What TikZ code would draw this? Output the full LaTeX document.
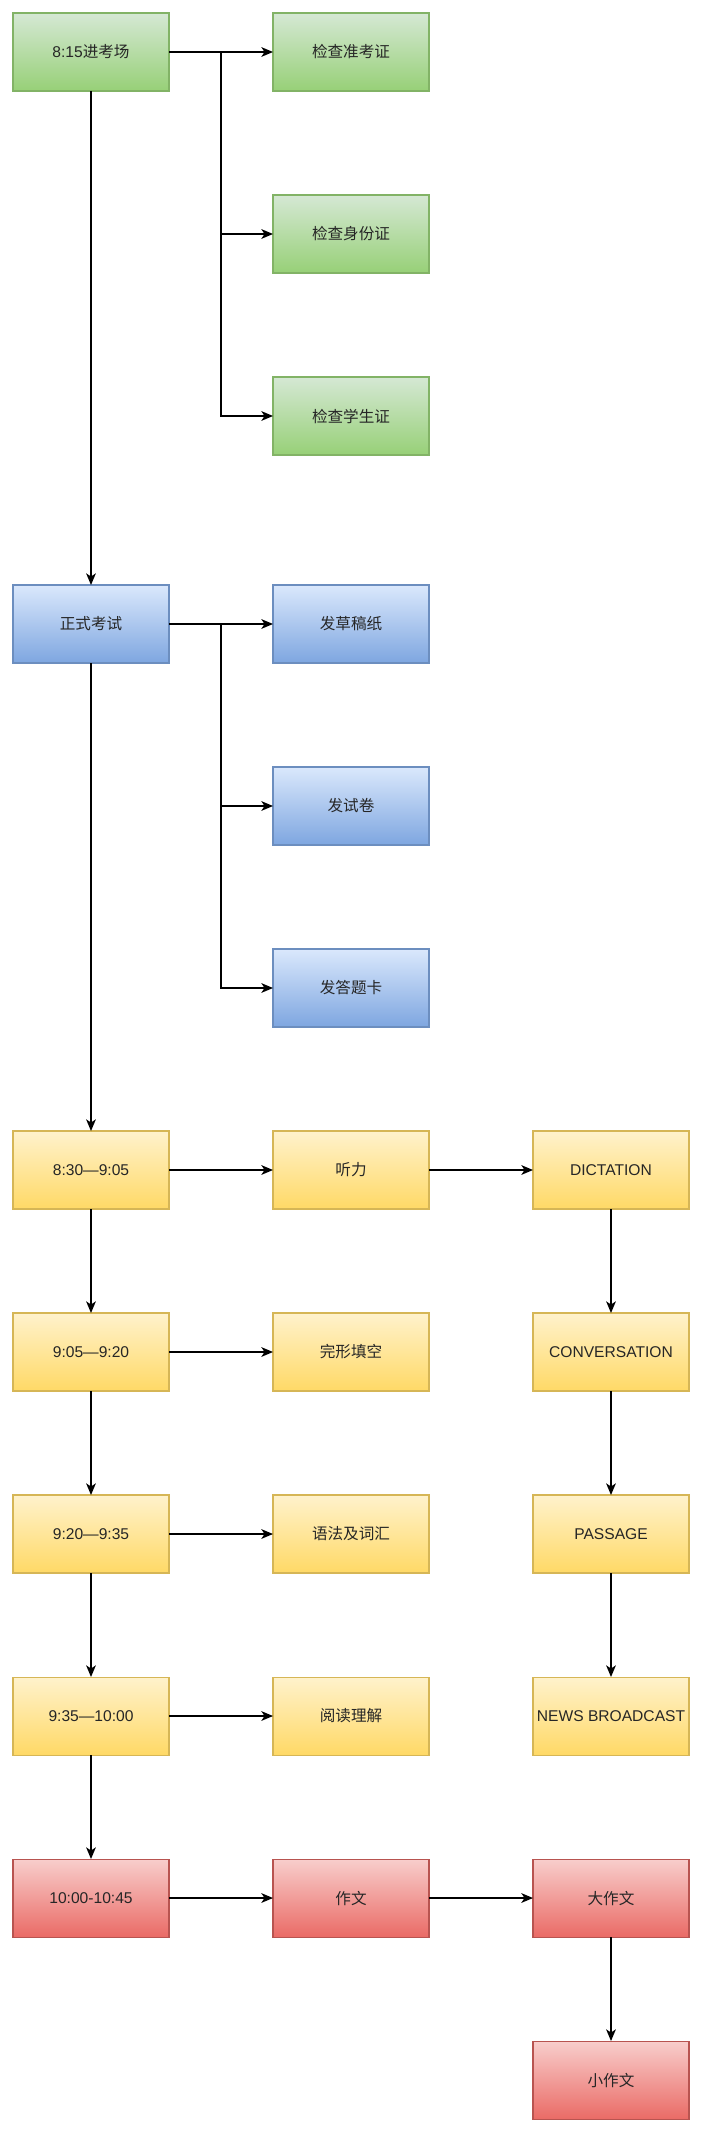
\documentclass[tikz,border=0pt]{standalone}
\usepackage{fontspec}
\setmainfont{Liberation Sans}
\newfontfamily\cjk{Noto Sans CJK SC}
\usetikzlibrary{arrows.meta}
\definecolor{gtop}{HTML}{D5E8D4}\definecolor{gbot}{HTML}{97D077}\definecolor{gline}{HTML}{82B366}
\definecolor{btop}{HTML}{DAE8FC}\definecolor{bbot}{HTML}{7EA6E0}\definecolor{bline}{HTML}{6C8EBF}
\definecolor{ytop}{HTML}{FFF2CC}\definecolor{ybot}{HTML}{FFD966}\definecolor{yline}{HTML}{D6B656}
\definecolor{rtop}{HTML}{F8CECC}\definecolor{rbot}{HTML}{EA6B66}\definecolor{rline}{HTML}{B85450}
\begin{document}
\begin{tikzpicture}[x=1pt,y=-1pt,
  box/.style={rectangle, minimum width=120pt, minimum height=60pt, inner sep=0pt, outer sep=0pt,
    line width=0.8pt, font=\fontsize{12}{14}\selectfont, text=black!85},
  gbox/.style={box, draw=gline, top color=gtop, bottom color=gbot},
  bbox/.style={box, draw=bline, top color=btop, bottom color=bbot},
  ybox/.style={box, draw=yline, top color=ytop, bottom color=ybot},
  rbox/.style={box, draw=rline, top color=rtop, bottom color=rbot},
  arr/.style={line width=1pt, -{Stealth[length=9pt,width=7.5pt,inset=2.5pt]}},
  ln/.style={line width=1pt}]
\useasboundingbox (0,0) rectangle (540.8,1640);
% column 1
\node[gbox] (a1) at (70,40) {8:15{\cjk 进考场}};
\node[bbox] (b1) at (70,480) {{\cjk 正式考试}};
\node[ybox] (c1) at (70,900) {8:30—9:05};
\node[ybox] (c2) at (70,1040) {9:05—9:20};
\node[ybox] (c3) at (70,1180) {9:20—9:35};
\node[ybox] (c4) at (70,1320) {9:35—10:00};
\node[rbox] (d1) at (70,1460) {10:00-10:45};
% column 2
\node[gbox] (a2) at (270,40) {{\cjk 检查准考证}};
\node[gbox] (a3) at (270,180) {{\cjk 检查身份证}};
\node[gbox] (a4) at (270,320) {{\cjk 检查学生证}};
\node[bbox] (b2) at (270,480) {{\cjk 发草稿纸}};
\node[bbox] (b3) at (270,620) {{\cjk 发试卷}};
\node[bbox] (b4) at (270,760) {{\cjk 发答题卡}};
\node[ybox] (e1) at (270,900) {{\cjk 听力}};
\node[ybox] (e2) at (270,1040) {{\cjk 完形填空}};
\node[ybox] (e3) at (270,1180) {{\cjk 语法及词汇}};
\node[ybox] (e4) at (270,1320) {{\cjk 阅读理解}};
\node[rbox] (d2) at (270,1460) {{\cjk 作文}};
% column 3
\node[ybox] (f1) at (470,900) {DICTATION};
\node[ybox] (f2) at (470,1040) {CONVERSATION};
\node[ybox] (f3) at (470,1180) {PASSAGE};
\node[ybox] (f4) at (470,1320) {NEWS BROADCAST};
\node[rbox] (d3) at (470,1460) {{\cjk 大作文}};
\node[rbox] (d4) at (470,1600) {{\cjk 小作文}};
% branch points
\coordinate (ja) at ([xshift=40pt]a1.east);
\coordinate (jb) at ([xshift=40pt]b1.east);
% connectors
\draw[arr] (a1) -- (a2);
\draw[arr] (ja) |- (a3.west);
\draw[arr] (ja) |- (a4.west);
\draw[arr] (b1) -- (b2);
\draw[arr] (jb) |- (b3.west);
\draw[arr] (jb) |- (b4.west);
\draw[arr] (a1) -- (b1);
\draw[arr] (b1) -- (c1);
\draw[arr] (c1) -- (c2);
\draw[arr] (c2) -- (c3);
\draw[arr] (c3) -- (c4);
\draw[arr] (c4) -- (d1);
\draw[arr] (c1) -- (e1);
\draw[arr] (e1) -- (f1);
\draw[arr] (c2) -- (e2);
\draw[arr] (c3) -- (e3);
\draw[arr] (c4) -- (e4);
\draw[arr] (f1) -- (f2);
\draw[arr] (f2) -- (f3);
\draw[arr] (f3) -- (f4);
\draw[arr] (d1) -- (d2);
\draw[arr] (d2) -- (d3);
\draw[arr] (d3) -- (d4);
\end{tikzpicture}
\end{document}
